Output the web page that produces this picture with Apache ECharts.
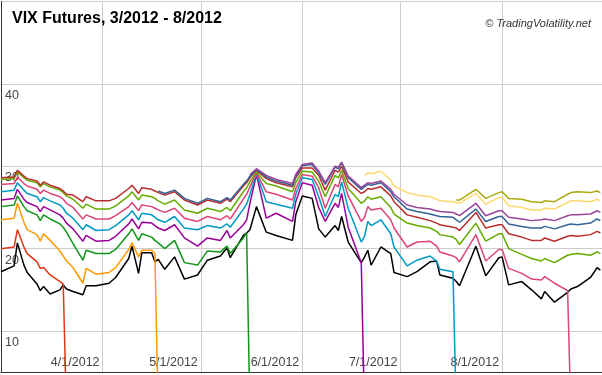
<!DOCTYPE html>
<html>
<head>
<meta charset="utf-8">
<script src="https://cdn.jsdelivr.net/npm/echarts@6/dist/echarts.min.js"></script>
<style>
html,body{margin:0;padding:0;background:#fff;}
#chart{width:602px;height:375px;}
</style>
</head>
<body>
<div id="chart"></div>
<script>
// ---- data ----
const dates = [
"2012-03-01","2012-03-05","2012-03-06","2012-03-08","2012-03-09","2012-03-12","2012-03-13","2012-03-14","2012-03-16","2012-03-19","2012-03-20","2012-03-21","2012-03-23","2012-03-26","2012-03-27","2012-03-30",
"2012-04-03","2012-04-05","2012-04-09","2012-04-10","2012-04-12","2012-04-13","2012-04-16","2012-04-17","2012-04-18","2012-04-20","2012-04-23","2012-04-26","2012-04-30",
"2012-05-03","2012-05-07","2012-05-09","2012-05-10","2012-05-14","2012-05-15","2012-05-16","2012-05-18","2012-05-21","2012-05-24","2012-05-29","2012-05-30",
"2012-06-01","2012-06-04","2012-06-06","2012-06-08","2012-06-11","2012-06-12","2012-06-13","2012-06-15","2012-06-19","2012-06-20","2012-06-21","2012-06-22","2012-06-25","2012-06-28","2012-06-29",
"2012-07-03","2012-07-06","2012-07-10","2012-07-12","2012-07-13","2012-07-17","2012-07-18","2012-07-19","2012-07-24","2012-07-27","2012-07-31",
"2012-08-01","2012-08-03","2012-08-07","2012-08-10","2012-08-13","2012-08-14","2012-08-17","2012-08-21","2012-08-22","2012-08-24","2012-08-28","2012-08-30","2012-08-31"
];

const vix = [17.2,17.9,20.7,18.0,17.1,15.7,14.9,15.4,14.5,15.0,15.6,15.1,14.8,14.4,15.5,15.5,
 15.8,16.5,18.8,20.3,17.0,19.5,19.5,18.4,18.7,17.5,19.0,16.3,16.8,
 18.6,19.1,20.1,18.9,21.6,21.9,22.3,25.1,22.0,21.6,21.0,24.1,
 26.4,26.1,22.4,21.4,22.8,22.2,23.9,20.8,18.3,19.0,19.8,18.0,20.2,19.4,17.1,
 16.6,17.2,18.4,18.5,16.8,16.4,16.0,15.5,20.3,16.7,18.9,
 19.0,15.6,16.0,15.0,13.9,14.8,13.5,14.7,15.1,15.4,16.5,17.7,17.4];

const futMar12 = [20.0,20.2,22.3,20.2,19.4,18.4,17.6,17.7,16.8,16.0,15.7,0];

const futApr12 = [23.5,23.7,25.5,23.2,22.3,21.7,20.9,21.8,21.0,19.7,19.1,18.5,17.7,15.8,17.6,16.9,
 17.1,17.7,19.9,20.7,19.0,19.8,19.8,19.4,0];

const futMay12 = [25.1,25.3,26.4,25.1,24.6,24.1,23.4,24.1,23.6,23.0,22.6,22.0,20.6,18.6,19.8,19.4,
 19.4,19.9,21.8,22.4,21.0,21.8,21.4,21.0,20.7,20.0,21.0,18.3,18.0,
 19.7,19.6,20.3,19.4,21.3,21.9,0];

const futJun12 = [25.9,26.1,27.2,26.0,25.6,25.1,24.5,25.1,24.7,24.1,23.7,23.1,22.4,20.9,21.6,20.9,
 21.0,21.5,23.0,23.6,22.4,23.2,23.1,22.8,22.5,22.2,22.9,21.3,20.3,
 21.3,21.0,22.2,21.3,22.9,23.5,25.5,29.0,23.7,24.3,23.3,25.7,
 28.0,27.7,25.0,23.3,25.5,25.0,26.7,22.6,18.3,0];

const futJul12 = [26.9,27.1,28.0,27.1,26.7,26.3,25.7,26.2,25.8,25.3,24.9,24.3,23.7,22.3,22.9,22.2,
 22.3,22.8,24.1,24.6,23.5,24.3,24.1,23.8,23.5,23.2,23.9,22.5,22.3,
 22.8,22.5,23.0,22.6,24.8,25.4,26.6,29.1,25.7,25.4,24.9,26.6,
 28.6,28.4,26.3,23.9,26.6,26.3,28.1,24.9,20.8,21.5,23.3,22.8,23.5,21.8,20.2,
 17.9,18.6,19.1,18.5,17.5,17.2,0];

const futAug12 = [27.8,27.9,28.7,27.9,27.6,27.2,26.7,27.1,26.7,26.3,26.0,25.5,25.0,23.6,24.1,23.6,
 23.6,24.0,25.1,25.6,24.6,25.3,25.1,24.9,24.7,24.4,24.9,23.7,23.3,
 23.9,23.5,24.0,23.6,26.0,26.6,27.5,29.2,26.9,26.6,25.9,27.3,
 29.0,28.8,27.4,24.9,27.8,27.5,29.0,26.4,23.3,23.8,25.1,24.7,24.9,23.5,22.5,
 20.2,20.8,20.9,20.3,19.6,19.1,18.9,18.4,21.7,18.5,19.9,
 19.9,17.6,17.0,16.3,16.2,16.6,15.8,14.9,0];

const futSep12 = [28.4,28.5,29.3,28.6,28.3,28.0,27.5,27.9,27.5,27.1,26.8,26.4,26.0,24.9,25.4,24.8,
 24.8,25.2,26.4,26.9,25.9,26.5,26.3,26.1,25.8,25.4,25.9,24.7,24.3,
 24.9,24.5,25.0,24.6,26.9,27.4,28.1,29.3,27.9,27.6,26.9,28.0,
 29.4,29.3,28.2,26.3,28.9,28.6,29.5,27.3,25.5,25.8,26.3,26.0,26.3,25.0,24.2,
 23.1,22.8,22.5,22.1,21.7,21.4,21.1,20.5,23.1,20.9,21.8,
 21.8,20.0,19.3,18.8,18.5,18.8,18.3,19.2,19.3,19.4,19.2,19.6,19.4];

const futOct12 = [28.6,28.7,29.5,28.8,28.5,28.2,27.7,28.1,27.7,27.3,27.0,26.6,26.5,25.7,26.3,25.8,
 25.8,26.1,27.3,27.7,26.7,27.4,27.2,27.0,26.8,26.5,26.9,25.9,25.3,
 25.9,25.5,26.0,25.7,27.6,28.0,28.6,29.5,28.5,28.0,27.5,28.6,
 29.8,29.8,28.9,27.1,29.5,29.3,30.0,28.1,26.7,26.9,27.3,27.2,27.5,26.4,25.7,
 24.1,23.8,23.4,23.1,22.9,22.6,22.5,22.2,24.4,22.5,22.9,
 22.9,21.8,21.4,21.0,21.0,21.3,20.9,21.5,21.6,21.5,21.7,22.1,21.9];

const futNov12 = [27.0,26.7,27.1,26.1,25.5,
 26.1,25.7,26.2,25.9,27.8,28.2,28.8,29.6,28.7,28.2,27.7,28.8,
 30.1,30.2,29.2,27.8,29.9,29.7,30.4,28.6,27.2,27.5,27.8,27.7,28.0,26.9,26.3,
 24.8,24.5,24.2,24.0,23.9,23.8,23.5,23.2,24.8,23.3,23.9,
 23.9,23.0,22.7,22.5,22.5,22.7,22.4,22.9,23.0,22.9,23.1,23.6,23.4];

const futDec12 = [29.0,29.7,28.9,28.4,27.9,29.0,
 30.2,30.4,29.4,28.0,30.0,29.9,30.5,28.8,27.4,27.7,28.0,27.9,28.2,27.2,26.6,
 25.3,25.0,24.8,24.6,24.5,24.4,24.2,24.0,25.5,24.0,24.6,
 24.6,23.8,23.6,23.4,23.5,23.6,23.4,24.0,24.1,24.1,24.2,24.6,24.4];

const futJan13 = [28.9,29.2,29.1,29.4,28.3,27.6,
 26.8,26.5,26.3,26.0,25.8,25.7,25.6,25.5,26.7,25.4,26.2,
 26.2,25.2,25.0,24.7,24.7,24.9,24.8,25.6,25.8,25.8,25.7,26.0,25.8];

const futFeb13 = [25.9,25.9,27.2,26.1,26.8,
 26.9,26.1,26.0,25.7,25.6,25.8,25.7,26.6,26.8,26.9,26.8,27.0,26.8];

const seriesNames = ["VIX","Mar 2012","Apr 2012","May 2012","Jun 2012","Jul 2012","Aug 2012","Sep 2012","Oct 2012","Nov 2012","Dec 2012","Jan 2013","Feb 2013"];
const seriesValues = [vix,futMar12,futApr12,futMay12,futJun12,futJul12,futAug12,futSep12,futOct12,futNov12,futDec12,futJan13,futFeb13];
const seriesFirstDate = ["2012-03-01","2012-03-01","2012-03-01","2012-03-01","2012-03-01","2012-03-01","2012-03-01","2012-03-01","2012-03-01","2012-04-18","2012-05-16","2012-06-20","2012-07-18"];
const yTickLabels = [10,20,30,40];

// ---- styles ----
const palette = ["#000000","#dc3912","#ff9900","#109618","#990099","#0099c6","#dd4477","#66aa00","#b82e2e","#316395","#994499","#fdd870","#aaaa11"];
const FONT = '"Liberation Sans", Arial, sans-serif';

function utc(s){ const p = s.split('-').map(Number); return Date.UTC(p[0], p[1]-1, p[2]); }

const series = seriesValues.map((vals, k) => {
  const start = dates.indexOf(seriesFirstDate[k]);
  return {
    name: seriesNames[k],
    type: 'line',
    showSymbol: false,
    symbol: 'none',
    clip: true,
    lineStyle: { width: 1.5, color: palette[k] },
    itemStyle: { color: palette[k] },
    emphasis: { disabled: true },
    data: vals.map((v, i) => [utc(dates[start + i]), v])
  };
});

const chart = echarts.init(document.getElementById('chart'), null, { renderer: 'canvas' });
chart.setOption({
  animation: false,
  useUTC: true,
  backgroundColor: '#ffffff',
  title: [
    { text: 'VIX Futures, 3/2012 - 8/2012', left: 12, top: 11, padding: 0,
      textStyle: { fontFamily: FONT, fontSize: 16, fontWeight: 'bold', color: '#000' } },
    { text: '\u00a9 TradingVolatility.net', right: 11, top: 18, padding: 0,
      textStyle: { fontFamily: FONT, fontSize: 11, fontStyle: 'italic', fontWeight: 'normal', color: '#333' } }
  ],
  grid: { left: 1, right: 0, top: 1.5, bottom: 2.8, containLabel: false, outerBoundsMode: 'none' },
  xAxis: {
    type: 'time',
    min: Date.UTC(2012, 2, 1),
    max: Date.UTC(2012, 7, 31, 12),
    minInterval: 28 * 86400000,
    maxInterval: 31 * 86400000,
    axisLine: { show: true, onZero: false, lineStyle: { color: '#333', width: 1 } },
    axisTick: { show: false },
    splitLine: { show: true, lineStyle: { color: '#cccccc', width: 1 } },
    axisLabel: {
      inside: true, margin: 3, align: 'right', verticalAlign: 'bottom',
      padding: [0, 3, 0, 0],
      showMinLabel: false, showMaxLabel: false,
      fontFamily: FONT, fontSize: 12.5, color: '#444',
      formatter: function (v) {
        const d = new Date(v);
        if (d.getUTCDate() !== 1 || d.getUTCMonth() < 3) return '';
        return (d.getUTCMonth() + 1) + '/' + d.getUTCDate() + '/' + d.getUTCFullYear();
      }
    }
  },
  yAxis: {
    type: 'value',
    min: 5, max: 50, interval: 5,
    axisLine: { show: true, lineStyle: { color: '#333', width: 1 } },
    axisTick: { show: false },
    // ticks run 5,10,15,...,50: draw only the multiples of 10
    splitLine: { show: true, lineStyle: { color: ['rgba(0,0,0,0)', '#cccccc'], width: 1 } },
    axisLabel: {
      inside: true, margin: 4, align: 'left', verticalAlign: 'top',
      padding: [5, 0, 0, 0],
      showMinLabel: false, showMaxLabel: false,
      fontFamily: FONT, fontSize: 12.5, color: '#444',
      formatter: function (v) { return yTickLabels.indexOf(v) >= 0 ? String(v) : ''; }
    }
  },
  series: series
});
</script>
</body>
</html>
